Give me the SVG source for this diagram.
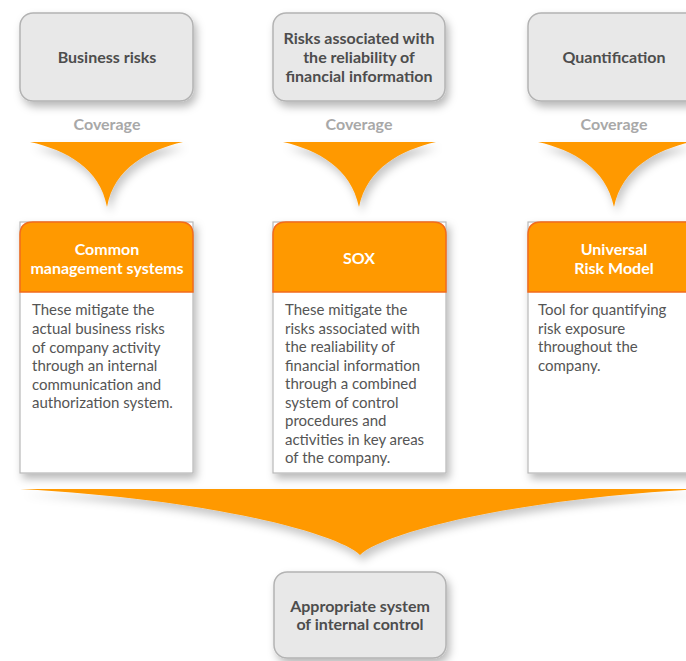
<svg xmlns="http://www.w3.org/2000/svg" width="686" height="661" viewBox="0 0 686 661">
<defs>
<filter id="sh" x="-20%" y="-20%" width="150%" height="150%">
<feDropShadow dx="3" dy="5" stdDeviation="4" flood-color="#000" flood-opacity="0.28"/>
</filter>
<filter id="shf" x="-20%" y="-20%" width="150%" height="160%">
<feDropShadow dx="3" dy="6" stdDeviation="4" flood-color="#000" flood-opacity="0.22"/>
</filter>
</defs>
<style>
.gbox{fill:#e8e8e8;stroke:#b3b3b3;stroke-width:1.5}
.title{font-family:Lato,"Liberation Sans",sans-serif;font-weight:bold;font-size:16px;fill:#4d4d4d;text-anchor:middle}
.cov{font-family:Lato,"Liberation Sans",sans-serif;font-weight:bold;font-size:16px;fill:#a8a8a8;text-anchor:middle}
.card{fill:#ffffff;stroke:#b8b8b8;stroke-width:1.2}
.head{fill:#ff9900;stroke:#f26b1d;stroke-width:1.5}
.htxt{font-family:Lato,"Liberation Sans",sans-serif;font-weight:bold;font-size:16px;fill:#ffffff;text-anchor:middle}
.body{font-family:Lato,"Liberation Sans",sans-serif;font-size:15px;fill:#555555}
.fun{fill:#ff9900}
</style>
<rect width="686" height="661" fill="#ffffff"/>

<g id="connectors">
<path class="fun" filter="url(#shf)" d="M30,142 H183 C148,150 114,168 107,207 C100,168 66,150 30,142 Z"/>
<path class="fun" filter="url(#shf)" d="M283,142 H436 C401,150 367,168 359,207 C351,168 318,150 283,142 Z"/>
<path class="fun" filter="url(#shf)" d="M538,142 H691 C656,150 622,168 614,207 C606,168 573,150 538,142 Z"/>
<path class="fun" filter="url(#shf)" d="M20,489 H700 C500,500 380,535 360,555 C340,535 220,500 20,489 Z"/>
</g>

<g id="business-risks">
<rect class="gbox" filter="url(#sh)" x="20" y="13" width="173" height="88" rx="13"/>
<text class="title" x="107" y="63">Business risks</text>
<text class="cov" x="107" y="129.5">Coverage</text>
</g>

<g id="financial-risks">
<rect class="gbox" filter="url(#sh)" x="273" y="13" width="172" height="88" rx="13"/>
<text class="title" x="359" y="44">Risks associated with</text>
<text class="title" x="359" y="63">the reliability of</text>
<text class="title" x="359" y="82">financial information</text>
<text class="cov" x="359" y="129.5">Coverage</text>
</g>

<g id="quantification">
<rect class="gbox" filter="url(#sh)" x="528" y="13" width="172" height="88" rx="13"/>
<text class="title" x="614" y="63">Quantification</text>
<text class="cov" x="614" y="129.5">Coverage</text>
</g>

<g id="common-management">
<rect class="card" filter="url(#sh)" x="20" y="222" width="173" height="251"/>
<path class="head" d="M20,292 V235 Q20,222 33,222 H180 Q193,222 193,235 V292 Z"/>
<text class="htxt" x="107" y="254.5">Common</text>
<text class="htxt" x="107" y="273.5">management systems</text>
<text class="body">
<tspan x="32" y="315">These mitigate the</tspan>
<tspan x="32" y="334">actual business risks</tspan>
<tspan x="32" y="353">of company activity</tspan>
<tspan x="32" y="371">through an internal</tspan>
<tspan x="32" y="390">communication and</tspan>
<tspan x="32" y="408">authorization system.</tspan>
</text>
</g>

<g id="sox">
<rect class="card" filter="url(#sh)" x="273" y="222" width="173" height="251"/>
<path class="head" d="M273,292 V235 Q273,222 286,222 H433 Q446,222 446,235 V292 Z"/>
<text class="htxt" x="359" y="263.5">SOX</text>
<text class="body">
<tspan x="285" y="315">These mitigate the</tspan>
<tspan x="285" y="334">risks associated with</tspan>
<tspan x="285" y="352">the realiability of</tspan>
<tspan x="285" y="371">financial information</tspan>
<tspan x="285" y="389">through a combined</tspan>
<tspan x="285" y="408">system of control</tspan>
<tspan x="285" y="426">procedures and</tspan>
<tspan x="285" y="445">activities in key areas</tspan>
<tspan x="285" y="463">of the company.</tspan>
</text>
</g>

<g id="universal-risk-model">
<rect class="card" filter="url(#sh)" x="528" y="222" width="173" height="251"/>
<path class="head" d="M528,292 V235 Q528,222 541,222 H688 Q701,222 701,235 V292 Z"/>
<text class="htxt" x="614" y="254.5">Universal</text>
<text class="htxt" x="614" y="273.5">Risk Model</text>
<text class="body">
<tspan x="538" y="315">Tool for quantifying</tspan>
<tspan x="538" y="334">risk exposure</tspan>
<tspan x="538" y="352">throughout the</tspan>
<tspan x="538" y="371">company.</tspan>
</text>
</g>

<g id="internal-control">
<rect class="gbox" filter="url(#sh)" x="274" y="572" width="172" height="86" rx="13"/>
<text class="title" x="360" y="612">Appropriate system</text>
<text class="title" x="360" y="630">of internal control</text>
</g>
</svg>
